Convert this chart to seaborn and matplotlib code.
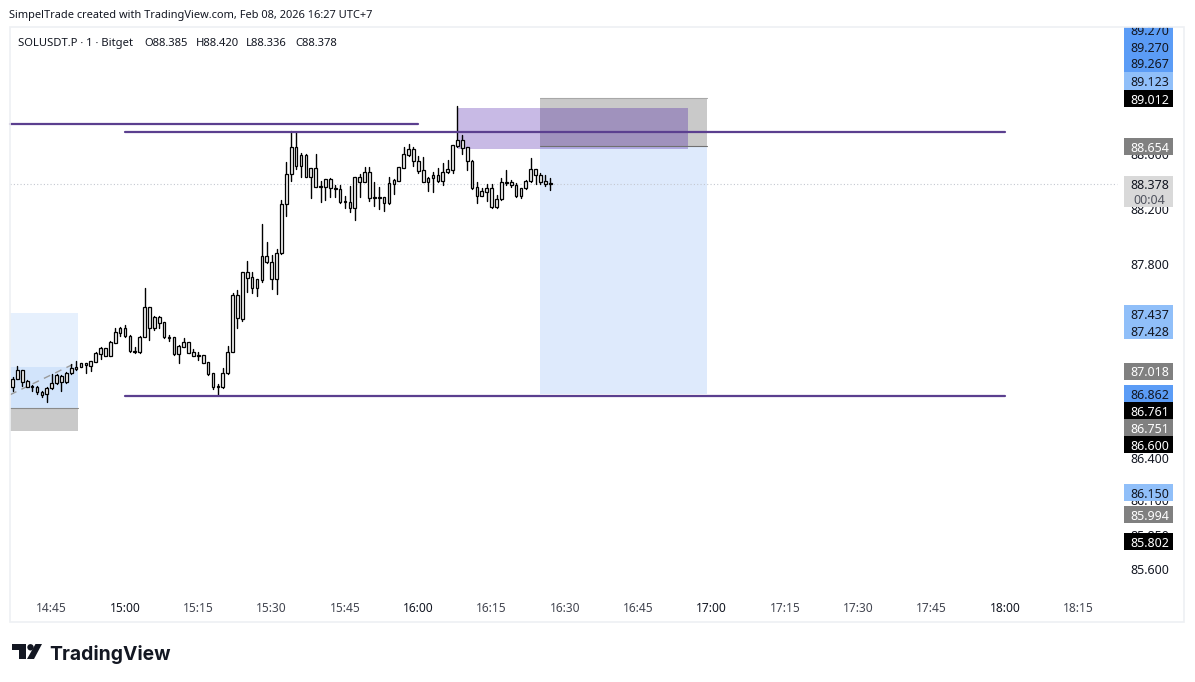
import numpy as np
import pandas as pd
import matplotlib
matplotlib.use('Agg')
import matplotlib.pyplot as plt
from matplotlib.patches import Rectangle, Polygon, Circle
from matplotlib.transforms import blended_transform_factory
import seaborn as sns

# candle data, one candle per minute starting 14:37
first_minute = -8  # minutes after 14:45
highs = [86.99, 87.068, 87.04, 86.966, 86.927, 86.923, 86.887, 86.914, 87.01, 87.01,
         87.003, 87.027, 87.082, 87.104, 87.091, 87.091, 87.106, 87.168, 87.207, 87.2,
         87.248, 87.339, 87.346, 87.363, 87.29, 87.207, 87.283, 87.628, 87.495, 87.43,
         87.43, 87.387, 87.29, 87.279, 87.219, 87.267, 87.243, 87.188, 87.171, 87.149,
         87.099, 87.019, 86.937, 87.051, 87.212, 87.592, 87.616, 87.746, 87.825, 87.747,
         87.697, 88.092, 87.964, 87.868, 87.909, 88.265, 88.541, 88.763, 88.753, 88.602,
         88.595, 88.498, 88.597, 88.402, 88.419, 88.426, 88.373, 88.373, 88.294, 88.366,
         88.433, 88.453, 88.505, 88.501, 88.395, 88.357, 88.289, 88.429, 88.414, 88.505,
         88.645, 88.669, 88.645, 88.585, 88.573, 88.433, 88.469, 88.494, 88.53, 88.554,
         88.664, 88.943, 88.734, 88.65, 88.554, 88.393, 88.349, 88.378, 88.38, 88.301,
         88.422, 88.481, 88.409, 88.386, 88.354, 88.409, 88.566, 88.491, 88.458, 88.445,
         88.422]
body_tops = [86.973, 87.039, 87.04, 86.959, 86.92, 86.918, 86.882, 86.906, 86.942, 87.003,
             86.997, 87.015, 87.051, 87.062, 87.087, 87.087, 87.101, 87.159, 87.195, 87.195,
             87.238, 87.31, 87.339, 87.339, 87.286, 87.173, 87.279, 87.491, 87.491, 87.423,
             87.423, 87.382, 87.274, 87.274, 87.212, 87.238, 87.238, 87.168, 87.145, 87.145,
             87.094, 87.015, 86.923, 87.015, 87.171, 87.58, 87.58, 87.743, 87.743, 87.707,
             87.693, 87.861, 87.861, 87.82, 87.88, 88.236, 88.45, 88.645, 88.645, 88.59,
             88.59, 88.494, 88.494, 88.366, 88.414, 88.419, 88.352, 88.342, 88.258, 88.248,
             88.429, 88.429, 88.465, 88.465, 88.285, 88.285, 88.285, 88.385, 88.409, 88.501,
             88.595, 88.631, 88.631, 88.546, 88.481, 88.421, 88.443, 88.445, 88.465, 88.487,
             88.662, 88.698, 88.698, 88.645, 88.549, 88.357, 88.33, 88.351, 88.349, 88.272,
             88.393, 88.393, 88.393, 88.373, 88.349, 88.402, 88.487, 88.487, 88.445, 88.4,
             88.385]
body_bottoms = [86.918, 86.973, 86.954, 86.918, 86.916, 86.878, 86.858, 86.865, 86.906, 86.942,
                86.95, 86.95, 87.015, 87.048, 87.062, 87.073, 87.07, 87.099, 87.154, 87.142,
                87.142, 87.235, 87.307, 87.286, 87.173, 87.166, 87.166, 87.279, 87.343, 87.343,
                87.38, 87.274, 87.269, 87.154, 87.156, 87.207, 87.163, 87.142, 87.14, 87.091,
                87.01, 86.914, 86.918, 86.914, 87.015, 87.171, 87.412, 87.406, 87.704, 87.628,
                87.628, 87.688, 87.82, 87.693, 87.693, 87.88, 88.234, 88.45, 88.512, 88.512,
                88.433, 88.433, 88.361, 88.361, 88.361, 88.349, 88.342, 88.253, 88.253, 88.209,
                88.209, 88.397, 88.397, 88.282, 88.277, 88.277, 88.241, 88.241, 88.38, 88.404,
                88.498, 88.592, 88.546, 88.474, 88.397, 88.397, 88.421, 88.402, 88.404, 88.465,
                88.481, 88.657, 88.642, 88.544, 88.354, 88.296, 88.296, 88.325, 88.212, 88.212,
                88.27, 88.388, 88.373, 88.294, 88.294, 88.349, 88.4, 88.443, 88.397, 88.378,
                88.378]
lows = [86.89, 86.97, 86.923, 86.918, 86.887, 86.863, 86.841, 86.81, 86.9, 86.937,
        86.889, 86.945, 87.01, 87.039, 87.058, 87.019, 87.034, 87.094, 87.12, 87.137,
        87.14, 87.231, 87.283, 87.278, 87.168, 87.163, 87.163, 87.274, 87.255, 87.327,
        87.343, 87.269, 87.248, 87.147, 87.091, 87.202, 87.159, 87.137, 87.111, 87.087,
        87.003, 86.902, 86.858, 86.909, 87.01, 87.166, 87.34, 87.392, 87.603, 87.596,
        87.574, 87.676, 87.813, 87.621, 87.587, 87.875, 88.15, 88.402, 88.489, 88.433,
        88.429, 88.282, 88.357, 88.253, 88.265, 88.285, 88.285, 88.241, 88.209, 88.181,
        88.121, 88.285, 88.393, 88.258, 88.222, 88.2, 88.188, 88.236, 88.308, 88.4,
        88.494, 88.585, 88.51, 88.462, 88.393, 88.33, 88.325, 88.397, 88.373, 88.46,
        88.462, 88.65, 88.597, 88.481, 88.347, 88.245, 88.292, 88.26, 88.207, 88.207,
        88.265, 88.373, 88.361, 88.285, 88.277, 88.344, 88.395, 88.38, 88.38, 88.366,
        88.337]

# levels: start minute, end minute, price
level_starts = [-8.5, 15, 15]
level_ends = [75, 195, 195]
level_prices = [88.813, 88.755, 86.851]

last_price = 88.378

# time axis
time_minutes = [0, 15, 30, 45, 60, 75, 90, 105, 120, 135, 150, 165, 180, 195, 210]
time_labels = ['14:45', '15:00', '15:15', '15:30', '15:45', '16:00', '16:15', '16:30',
               '16:45', '17:00', '17:15', '17:30', '17:45', '18:00', '18:15']
time_major = ['15:00', '16:00', '17:00', '18:00']

# price ticks, most sit half under the tags
tick_prices = [88.6, 88.2, 87.8, 86.4, 86.1, 85.85, 85.6]

# price tags: text, colour kind, row centre in pixels
tag_texts = ['89.270', '89.270', '89.267', '89.123', '89.012', '88.654', '87.437', '87.428',
             '87.018', '86.862', '86.761', '86.751', '86.600', '86.150', '85.994', '85.802']
tag_kinds = ['blue', 'blue', 'blue', 'light', 'black', 'grey', 'light', 'light',
             'grey', 'blue', 'black', 'grey', 'black', 'light', 'grey', 'black']
tag_rows = [30, 46.7, 63.3, 81, 98.5, 146.5, 313.7, 330.7, 371.5, 393.7, 410.7, 427.7,
            444.7, 492.7, 514.7, 541.7]

# legend line pieces on the second header row
ohlc_texts = ['SOLUSDT.P · 1 · Bitget', 'O88.385', 'H88.420', 'L88.336', 'C88.378']
ohlc_left = [18, 144, 196, 246, 295]

tag_colors = {'blue': '#5b9cf6', 'light': '#90bff9', 'black': '#000000', 'grey': '#808080'}
tag_text_colors = {'blue': '#131722', 'light': '#131722', 'black': '#ffffff', 'grey': '#ffffff'}

sns.set_theme(style='white')
plt.rcParams['font.family'] = ['Noto Sans', 'DejaVu Sans']

W, H = 1195, 682
fig = plt.figure(figsize=(W / 100, H / 100), dpi=100, facecolor='white')
ax = fig.add_axes([0, 0, 1, 1])

# pixel overlay for texts and logo
ov = fig.add_axes([0, 0, 1, 1], zorder=5)
ov.set_xlim(0, W)
ov.set_ylim(H, 0)
ov.axis('off')
ov.patch.set_alpha(0)

x_time_y_px = blended_transform_factory(ax.transData, ov.transData)
x_px_y_price = blended_transform_factory(ov.transData, ax.transData)

# position boxes
ax.add_patch(Rectangle((-8.5, 87.06), 13.9, 87.45 - 87.06, fc='#e6f0fd', ec='none', zorder=1))
ax.add_patch(Rectangle((-8.5, 86.761), 13.9, 87.06 - 86.761, fc='#d2e4fb', ec='none', zorder=1))
ax.add_patch(Rectangle((-8.5, 86.6), 13.9, 86.761 - 86.6, fc='#c9c9c9', ec='none', zorder=1))
ax.plot([-8.5, 5.4], [86.761, 86.761], color='#8a8a8a', lw=0.8, zorder=1.5)
ax.plot([-8.5, 5], [86.86, 87.09], color='#9a9a9a', lw=1, ls=(0, (5, 4)), zorder=1.5)

ax.add_patch(Rectangle((100, 86.862), 34, 88.654 - 86.862, fc='#deeafc', ec='none', zorder=1))
ax.add_patch(Rectangle((100, 88.654), 34, 89.0 - 88.654, fc='#c9c9c9', ec='none', zorder=1))
ax.plot([100, 134], [89.0, 89.0], color='#a8a8a8', lw=0.8, zorder=1.5)
ax.plot([100, 134], [88.654, 88.654], color='#707070', lw=0.8, zorder=3.5)
ax.add_patch(Rectangle((83.1, 88.633), 47.1, 88.929 - 88.633, fc='#34009f', alpha=0.27, ec='none', zorder=2))

# last price line
ax.plot([-8.5, 218], [last_price, last_price], color='#c4c8d0', lw=0.8, ls=(0, (1, 2)), zorder=1.2)

# candles
candles = pd.DataFrame({'minute': first_minute + np.arange(len(highs)), 'high': highs,
                        'top': body_tops, 'bottom': body_bottoms, 'low': lows})
wicks = candles.melt(id_vars='minute', value_vars=['high', 'low'], value_name='price')
sns.lineplot(data=wicks, x='minute', y='price', units='minute', estimator=None, color='black',
             lw=1, ax=ax, zorder=3, legend=False)
ax.bar(candles['minute'], candles['top'] - candles['bottom'], bottom=candles['bottom'], width=0.55,
       facecolor='#f4f4f4', edgecolor='black', lw=0.9, zorder=3.2)

# horizontal levels
levels = pd.DataFrame({'id': [0, 1, 2, 0, 1, 2], 'minute': level_starts + level_ends,
                       'price': level_prices + level_prices})
sns.lineplot(data=levels, x='minute', y='price', units='id', estimator=None, color='#5b3f8f',
             lw=1.6, ax=ax, zorder=4, legend=False)
ax.set_xlim(-10.577, 233.9)
ax.set_ylim(84.787, 89.708)
ax.axis('off')

# price ticks and tags
for p in tick_prices:
    ov.text(1149.5, p, f'{p:.3f}', transform=x_px_y_price, ha='center', va='center_baseline',
            fontsize=9, color='#131722', zorder=1)
ov.add_patch(Rectangle((1124, 176), 48.7, 30.7, fc='#d9d9d9', ec='none', zorder=2))
ov.text(1149.5, 184.3, f'{last_price:.3f}', ha='center', va='center_baseline', fontsize=9, color='#131722', zorder=3)
ov.text(1149.5, 199, '00:04', ha='center', va='center_baseline', fontsize=9, color='#50535e', zorder=3)
for txt, kind, row in zip(tag_texts, tag_kinds, tag_rows):
    ov.add_patch(Rectangle((1124, row - 8.6), 48.7, 17.2, fc=tag_colors[kind], ec='none', zorder=2))
    ov.text(1149.5, row, txt, ha='center', va='center_baseline', fontsize=9,
            color=tag_text_colors[kind], zorder=3)

# pane edge
ov.add_patch(Rectangle((0, 0), W, 27, fc='white', ec='none', zorder=4))
ov.add_patch(Rectangle((10, 27), 1174, 595, fc='none', ec='#eef0f3', lw=1.2, zorder=4))

# time labels
for m, lab in zip(time_minutes, time_labels):
    major = lab in time_major
    ov.text(m, 607, lab, transform=x_time_y_px, ha='center', va='center_baseline', fontsize=8.6,
            color='#131722' if major else '#434651', fontweight='semibold' if major else 'normal')

# header texts
ov.text(9, 14, 'SimpelTrade created with TradingView.com, Feb 08, 2026 16:27 UTC+7', ha='left',
        va='center_baseline', fontsize=7.95, color='#131722', zorder=5)
for txt, left in zip(ohlc_texts, ohlc_left):
    ov.text(left, 42, txt, ha='left', va='center_baseline', fontsize=8.1, color='#131722', zorder=5)

# logo
ov.add_patch(Polygon([(12, 644), (26, 644), (26, 659), (19, 659), (19, 650), (12, 650)], fc='#131722', ec='none'))
ov.add_patch(Circle((30.5, 647.3), 3.2, fc='#131722', ec='none'))
ov.add_patch(Polygon([(35.5, 644), (42, 644), (34, 659), (27, 659)], fc='#131722', ec='none'))
ov.text(49, 652, 'TradingView', ha='left', va='center_baseline', fontsize=13.9, family='Inter',
        fontweight='bold', color='#131722')

fig.savefig('out.png', dpi=100)
